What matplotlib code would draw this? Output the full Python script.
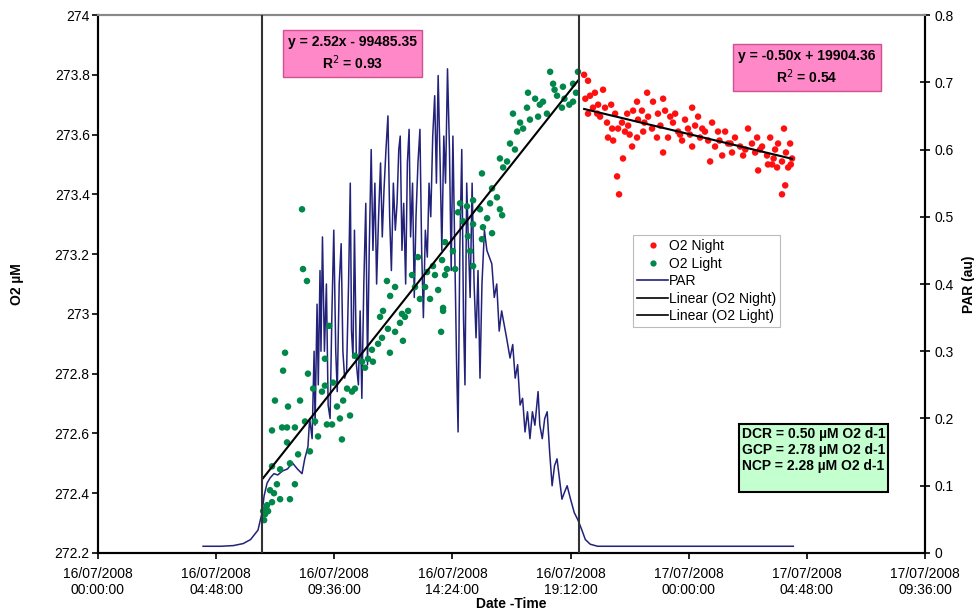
import numpy as np
import matplotlib
matplotlib.use("Agg")
import matplotlib.pyplot as plt
from matplotlib.lines import Line2D

plt.rcParams['font.family'] = ['Liberation Sans', 'DejaVu Sans']

# ---- data (time in hours from 16/07/2008 00:00) ----
light_t = [8.29, 8.33, 8.49, 7.60, 7.52, 8.53, 7.19, 7.07, 7.72, 8.21, 7.48, 7.68, 8.00, 7.68,
           8.41, 8.82, 8.94, 8.61, 8.13, 7.80, 7.07, 7.40, 7.27, 8.00, 6.99, 7.80, 7.40, 7.07,
           6.87, 6.79, 6.91, 6.71, 9.22, 9.10, 8.74, 9.55, 9.30, 9.51, 9.83, 9.91, 10.24, 9.71,
           9.96, 10.12, 10.44, 10.32, 9.39, 9.22, 10.44, 10.73, 10.97, 11.17, 10.85, 11.13, 11.38,
           11.54, 11.86, 11.46, 11.58, 11.78, 12.07, 11.74, 12.07, 11.87, 12.35, 12.47, 12.60,
           12.76, 13.00, 12.88, 13.08, 12.27, 12.39,
           18.37, 19.50, 18.49, 18.89, 19.30, 17.47, 16.86, 17.43, 17.76, 18.08, 18.24, 18.65,
           18.85, 19.30, 17.15, 17.55, 17.88, 17.03, 17.27, 16.74, 16.94, 16.33, 16.62, 16.46,
           15.60, 16.01, 16.21, 16.33, 16.42, 15.93, 15.81, 15.52, 15.24, 14.99, 14.71, 14.63,
           14.83, 15.24, 15.64, 16.01, 15.03, 15.60, 14.10, 14.42, 15.12, 15.24, 13.98, 13.61,
           14.18, 14.51, 13.37, 13.69, 14.10, 13.29, 13.82, 14.02, 13.49, 14.02, 13.94,
           19.42, 19.15, 18.95, 17.95, 18.55, 6.75, 6.83, 7.15]
light_o2 = [273.35, 273.15, 273.11, 272.87, 272.81, 272.80, 272.71, 272.61, 272.69, 272.71,
            272.62, 272.62, 272.62, 272.57, 272.64, 272.64, 272.59, 272.54, 272.53, 272.50,
            272.49, 272.48, 272.43, 272.43, 272.41, 272.38, 272.38, 272.37, 272.36, 272.33,
            272.34, 272.34, 272.76, 272.74, 272.75, 272.77, 272.63, 272.63, 272.65, 272.58,
            272.66, 272.69, 272.71, 272.75, 272.75, 272.74, 272.96, 272.85, 272.86, 272.84,
            272.85, 272.84, 272.82, 272.88, 272.90, 272.92, 272.87, 272.99, 273.01, 272.95,
            272.94, 273.11, 273.09, 273.06, 273.00, 272.99, 273.01, 273.13, 273.19, 273.09,
            273.05, 272.97, 272.91,
            273.81, 273.81, 273.77, 273.76, 273.77, 273.74, 273.67, 273.69, 273.72, 273.71,
            273.67, 273.73, 273.69, 273.71, 273.64, 273.65, 273.66, 273.61, 273.62, 273.57,
            273.55, 273.52, 273.51, 273.49, 273.47, 273.42, 273.39, 273.35, 273.33, 273.37,
            273.32, 273.35, 273.38, 273.36, 273.37, 273.34, 273.31, 273.30, 273.29, 273.27,
            273.26, 273.25, 273.24, 273.21, 273.21, 273.16, 273.18, 273.16, 273.15, 273.15,
            273.14, 273.13, 273.13, 273.09, 273.08, 273.02, 273.05, 273.01, 272.94,
            273.74, 273.70, 273.72, 273.70, 273.75, 272.31, 272.35, 272.40]

night_t = [19.91, 20.52, 20.19, 19.99, 20.32, 20.11, 19.91, 20.60, 20.28, 20.68, 21.01, 20.72,
           20.93, 21.13, 21.29, 21.33, 21.09, 21.17, 21.50, 21.54, 21.41, 21.74, 21.90, 22.10,
           22.31, 22.35, 22.55, 22.75, 22.96, 23.04, 21.90, 22.15, 22.51, 22.96, 23.16, 23.36,
           23.45, 23.57, 23.85, 23.73, 23.97, 24.14, 24.26, 24.38, 24.46, 24.66, 24.79, 24.95,
           24.87, 25.07, 25.19, 25.36, 25.48, 25.60, 25.76, 25.88, 26.09, 26.21, 26.41, 26.57,
           26.70, 26.82, 26.78, 26.98, 27.18, 27.31, 27.39, 27.51, 27.63, 27.79, 27.87, 28.04,
           28.20, 28.12, 27.92, 27.79, 27.59, 27.22, 20.89, 21.70, 22.71, 21.94, 24.14,
           19.75, 19.80, 20.40, 20.85, 21.60, 22.20, 22.85, 23.25, 23.65, 24.05, 24.55, 25.25,
           25.70, 26.30, 26.90, 27.45, 27.95, 28.15]
night_o2 = [273.78, 273.75, 273.74, 273.73, 273.70, 273.69, 273.67, 273.69, 273.67, 273.64,
            273.67, 273.59, 273.58, 273.62, 273.64, 273.52, 273.46, 273.40, 273.67, 273.63,
            273.61, 273.68, 273.71, 273.68, 273.74, 273.66, 273.71, 273.67, 273.72, 273.68,
            273.59, 273.61, 273.62, 273.54, 273.59, 273.64, 273.67, 273.61, 273.65, 273.58,
            273.62, 273.56, 273.63, 273.66, 273.59, 273.61, 273.58, 273.64, 273.51, 273.56,
            273.61, 273.53, 273.61, 273.57, 273.54, 273.59, 273.56, 273.53, 273.62, 273.57,
            273.54, 273.48, 273.59, 273.56, 273.53, 273.59, 273.50, 273.55, 273.57, 273.51,
            273.62, 273.49, 273.52, 273.57, 273.43, 273.40, 273.49, 273.50, 273.62, 273.56,
            273.59, 273.65, 273.69,
            273.80, 273.72, 273.66, 273.70, 273.60, 273.64, 273.63, 273.66, 273.60, 273.60,
            273.62, 273.58, 273.57, 273.55, 273.55, 273.52, 273.54, 273.50]

par_t = [4.27, 5.0, 5.5, 5.9, 6.2, 6.5, 6.66, 6.75, 6.87, 7.0, 7.15, 7.3, 7.5, 7.7, 7.9, 8.1,
         8.29, 8.4, 8.53, 8.6, 8.7, 8.78, 8.82, 8.9, 8.95, 9.02, 9.06, 9.12, 9.2, 9.28, 9.35,
         9.43, 9.5, 9.58, 9.66, 9.72, 9.8, 9.88, 9.95, 10.02, 10.1, 10.18, 10.25, 10.3, 10.36,
         10.42, 10.5, 10.58, 10.65, 10.72, 10.8, 10.88, 10.95, 11.02, 11.1, 11.17, 11.25, 11.32,
         11.4, 11.48, 11.55, 11.62, 11.7, 11.78, 11.85, 11.92, 12.0, 12.08, 12.15, 12.22, 12.28,
         12.35, 12.42, 12.5, 12.57, 12.64, 12.7, 12.78, 12.85, 12.92, 13.0, 13.08, 13.15, 13.22,
         13.3, 13.38, 13.45, 13.52, 13.6, 13.68, 13.75, 13.82, 13.9, 13.97, 14.05, 14.12, 14.2,
         14.28, 14.35, 14.42, 14.5, 14.57, 14.63, 14.7, 14.78, 14.85, 14.91, 14.98, 15.05,
         15.12, 15.2, 15.28, 15.36, 15.44, 15.52, 15.6, 15.7, 15.8, 15.9, 16.0, 16.1, 16.2,
         16.3, 16.4, 16.5, 16.6, 16.74, 16.85, 16.95, 17.05, 17.15, 17.25, 17.35, 17.45, 17.55,
         17.65, 17.75, 17.88, 17.95, 18.05, 18.15, 18.25, 18.35, 18.45, 18.55, 18.65, 18.75,
         18.85, 18.95, 19.06, 19.2, 19.35, 19.5, 19.65, 19.8, 20.0, 20.3, 22.0, 25.0, 28.25]
par_v = [0.010, 0.010, 0.011, 0.014, 0.020, 0.034, 0.059, 0.085, 0.104, 0.112, 0.118, 0.116,
         0.122, 0.125, 0.134, 0.125, 0.118, 0.14, 0.158, 0.20, 0.17, 0.30, 0.19, 0.37, 0.25,
         0.42, 0.30, 0.47, 0.30, 0.40, 0.22, 0.20, 0.35, 0.48, 0.30, 0.24, 0.40, 0.46, 0.30,
         0.26, 0.27, 0.40, 0.55, 0.33, 0.29, 0.48, 0.28, 0.25, 0.36, 0.23, 0.40, 0.52, 0.28,
         0.45, 0.60, 0.45, 0.55, 0.40, 0.50, 0.58, 0.47, 0.54, 0.60, 0.65, 0.50, 0.42, 0.55,
         0.48, 0.52, 0.60, 0.62, 0.45, 0.52, 0.40, 0.58, 0.63, 0.47, 0.55, 0.38, 0.50, 0.58,
         0.63, 0.45, 0.35, 0.48, 0.44, 0.55, 0.50, 0.62, 0.68, 0.55, 0.71, 0.58, 0.45, 0.62,
         0.55, 0.72, 0.60, 0.42, 0.62, 0.44, 0.28, 0.18, 0.45, 0.60, 0.35, 0.25, 0.55, 0.46,
         0.38, 0.55, 0.40, 0.32, 0.42, 0.26, 0.40, 0.48, 0.45, 0.44, 0.43, 0.38, 0.40, 0.33,
         0.36, 0.34, 0.32, 0.29, 0.31, 0.26, 0.28, 0.22, 0.23, 0.18, 0.21, 0.17, 0.21, 0.19,
         0.24, 0.19, 0.17, 0.20, 0.21, 0.15, 0.10, 0.13, 0.14, 0.11, 0.08, 0.09, 0.10, 0.08,
         0.06, 0.049, 0.035, 0.02, 0.013, 0.010, 0.010, 0.010, 0.010]

boundaries = [6.67, 19.55]
tick_hours = [0, 4.8, 9.6, 14.4, 19.2, 24.0, 28.8, 33.6]
tick_labels = ["16/07/2008\n00:00:00", "16/07/2008\n04:48:00", "16/07/2008\n09:36:00",
               "16/07/2008\n14:24:00", "16/07/2008\n19:12:00", "17/07/2008\n00:00:00",
               "17/07/2008\n04:48:00", "17/07/2008\n09:36:00"]
light_eq = "y = 2.52x - 99485.35\nR$^2$ = 0.93"
night_eq = "y = -0.50x + 19904.36\nR$^2$ = 0.54"
rates_text = "DCR = 0.50 µM O2 d-1\nGCP = 2.78 µM O2 d-1\nNCP = 2.28 µM O2 d-1\n"

FS = 10

fig = plt.figure(figsize=(9.74, 6.13), dpi=100)
ax = fig.add_axes([0.1006, 0.0979, 0.8491, 0.8776])
ax2 = ax.twinx()

# PAR
ax2.plot(par_t, par_v, color='#22227a', lw=1.1, zorder=2)
ax2.set_ylim(0, 0.8)
ax2.set_yticks(np.arange(0, 0.81, 0.1))
ax2.set_yticklabels(['0', '0.1', '0.2', '0.3', '0.4', '0.5', '0.6', '0.7', '0.8'])

# O2 scatter
ax.set_zorder(ax2.get_zorder() + 1)
ax.patch.set_visible(False)
ax.scatter(night_t, night_o2, s=22, color='#ff1010', edgecolors='none', zorder=3)
ax.scatter(light_t, light_o2, s=22, color='#00874a', edgecolors='none', zorder=3)

# linear fits
lt = np.array(light_t); lo = np.array(light_o2)
nt = np.array(night_t); no = np.array(night_o2)
pl = np.polyfit(lt, lo, 1)
pn = np.polyfit(nt, no, 1)
xl = np.array([lt.min(), lt.max()])
xn = np.array([nt.min(), nt.max()])
ax.plot(xl, np.polyval(pl, xl), color='black', lw=1.5, zorder=4)
ax.plot(xn, np.polyval(pn, xn), color='black', lw=1.5, zorder=4)

for b in boundaries:
    ax.axvline(b, color='#333333', lw=1.5, zorder=5)

ax.set_xlim(0, 33.6)
ax.set_ylim(272.2, 274)
ax.set_yticks(np.arange(272.2, 274.01, 0.2))
ax.set_yticklabels(['272.2', '272.4', '272.6', '272.8', '273', '273.2', '273.4', '273.6', '273.8', '274'])
ax.set_xticks(tick_hours)
ax.set_xticklabels(tick_labels)

for a in (ax, ax2):
    a.tick_params(labelsize=FS, width=1.2, length=4)
ax.tick_params(axis='x', direction='out', pad=6)
ax.tick_params(axis='y', direction='out', pad=2)
ax2.tick_params(axis='y', direction='inout', length=7, pad=3)

for a in (ax, ax2):
    a.spines['top'].set_color('#888888')
    a.spines['top'].set_linewidth(1.5)
    a.spines['left'].set_linewidth(1.5)
    a.spines['bottom'].set_linewidth(1.5)
    a.spines['right'].set_linewidth(1.5)

ax.set_ylabel("O2 µM", fontsize=FS, fontweight='bold', labelpad=22)
ax2.set_ylabel("PAR (au)", fontsize=FS, fontweight='bold', labelpad=6)
ax.set_xlabel("Date -Time", fontsize=FS, fontweight='bold', labelpad=0)

# annotations
ax.text(0.3077, 0.929, light_eq, transform=ax.transAxes, ha='center', va='center',
        fontsize=FS, fontweight='bold', linespacing=1.3, zorder=6,
        bbox=dict(boxstyle='square,pad=0.35', facecolor='#ff88c8', edgecolor='#d05090', lw=1))
ax.text(0.8573, 0.903, night_eq, transform=ax.transAxes, ha='center', va='center',
        fontsize=FS, fontweight='bold', linespacing=1.3, zorder=6,
        bbox=dict(boxstyle='square,pad=0.35', facecolor='#ff88c8', edgecolor='#d05090', lw=1))
ax.text(0.7787, 0.1766, rates_text, transform=ax.transAxes, ha='left', va='center',
        fontsize=FS, fontweight='bold', linespacing=1.2, zorder=6,
        bbox=dict(boxstyle='square,pad=0.2', facecolor='#c4ffd0', edgecolor='black', lw=1.5))

handles = [Line2D([], [], ls='none', marker='o', ms=4.5, color='#ff1010', mec='none'),
           Line2D([], [], ls='none', marker='o', ms=4.5, color='#00874a', mec='none'),
           Line2D([], [], color='#22227a', lw=1.2),
           Line2D([], [], color='black', lw=1.2),
           Line2D([], [], color='black', lw=1.2)]
labels = ["O2 Night", "O2 Light", "PAR", "Linear (O2 Night)", "Linear (O2 Light)"]
leg = ax.legend(handles, labels, loc='upper left', bbox_to_anchor=(0.647, 0.591),
                fontsize=FS, frameon=True, fancybox=False, edgecolor='#aaaaaa',
                handlelength=2.2, handletextpad=0.1, borderpad=0.3, labelspacing=0.25,
                borderaxespad=0)
leg.get_frame().set_linewidth(0.8)
leg.set_zorder(7)

fig.savefig("out.png", dpi=100)
